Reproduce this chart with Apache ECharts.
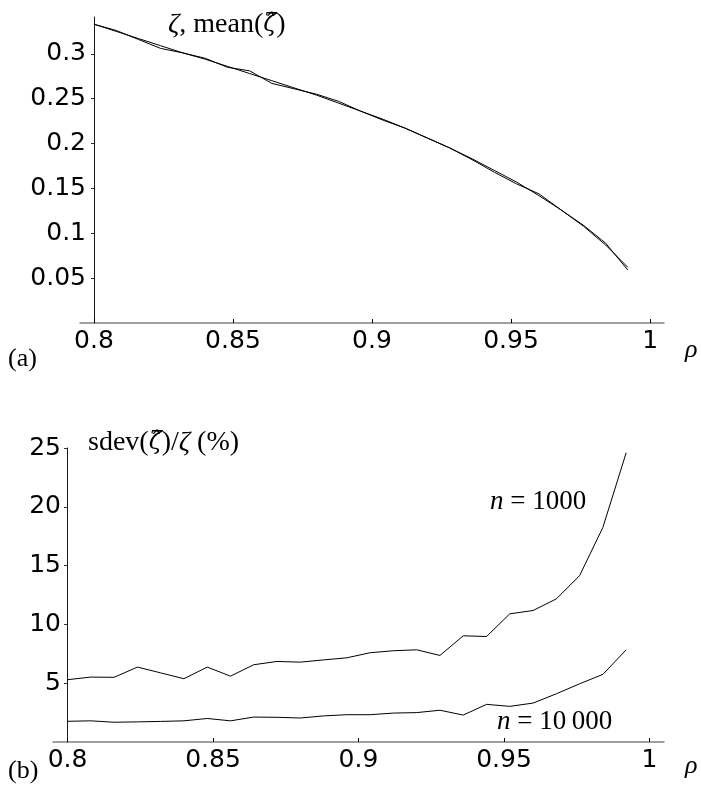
<!DOCTYPE html>
<html>
<head>
<meta charset="utf-8">
<script src="https://cdn.jsdelivr.net/npm/echarts@6/dist/echarts.min.js"></script>
<style>
  html, body { margin: 0; padding: 0; background: #fff; }
  #chart { width: 701px; height: 793px; }
</style>
</head>
<body>
<div id="chart"></div>
<script>
// rho grid shared by both panels
const rho = [0.8, 0.808, 0.816, 0.824, 0.832, 0.84, 0.848, 0.856, 0.864, 0.872, 0.88, 0.888, 0.896,
  0.904, 0.912, 0.92, 0.928, 0.936, 0.944, 0.952, 0.96, 0.968, 0.976, 0.984, 0.992]

// (a) zeta and mean of the estimate
const zeta = [0.333, 0.325, 0.317, 0.309, 0.301, 0.294, 0.286, 0.278, 0.270, 0.262, 0.254, 0.245, 0.236,
  0.227, 0.217, 0.206, 0.195, 0.183, 0.170, 0.157, 0.142, 0.126, 0.108, 0.087, 0.062]
const meanZeta = [0.333, 0.326, 0.316, 0.306, 0.301, 0.295, 0.285, 0.281, 0.267, 0.261, 0.255, 0.247, 0.236,
  0.226, 0.217, 0.206, 0.195, 0.182, 0.168, 0.155, 0.144, 0.126, 0.109, 0.089, 0.059]

// (b) relative sdev in %
const sdev1000 = [5.3, 5.52, 5.5, 6.37, 5.88, 5.38, 6.37, 5.6, 6.57, 6.85, 6.79, 6.98, 7.16,
  7.59, 7.76, 7.84, 7.36, 9.03, 8.97, 10.9, 11.18, 12.17, 14.15, 18.25, 24.6]
const sdev10000 = [1.76, 1.8, 1.68, 1.71, 1.75, 1.8, 2.0, 1.8, 2.12, 2.1, 2.04, 2.22, 2.32,
  2.32, 2.46, 2.5, 2.7, 2.29, 3.2, 3.03, 3.31, 4.1, 4.95, 5.75, 7.84]

// tick labels
const xTicks = [0.8, 0.85, 0.9, 0.95, 1]
const yTicksA = [0.05, 0.1, 0.15, 0.2, 0.25, 0.3]
const yTicksB = [5, 10, 15, 20, 25]

const pairs = (ys) => rho.map((r, i) => [r, ys[i]])

const chart = echarts.init(document.getElementById('chart'))

const sansLabel = { fontFamily: 'DejaVu Sans', fontSize: 25, color: '#000' }
const serif = 'Liberation Serif'

const xAxisBase = (grid) => ({
  gridIndex: grid,
  type: 'value',
  min: 0.795,
  max: 1.005,
  splitLine: { show: false },
  axisLine: { show: true, lineStyle: { color: '#808080', width: 1.5 } },
  axisTick: { show: true, inside: true, length: 4, customValues: xTicks, lineStyle: { color: '#000' } },
  axisLabel: { ...sansLabel, margin: 6, customValues: xTicks, formatter: (v) => String(v) }
})

const yAxisBase = (grid, max, ticks, margin) => ({
  gridIndex: grid,
  type: 'value',
  min: 0,
  max: max,
  offset: -14,
  splitLine: { show: false },
  axisLine: { show: true, lineStyle: { color: '#1a1a1a', width: 1 } },
  axisTick: { show: true, length: 3, customValues: ticks, lineStyle: { color: '#333' } },
  axisLabel: { ...sansLabel, margin: margin, customValues: ticks, formatter: (v) => String(v) }
})

const lineSeries = (data, grid) => ({
  type: 'line',
  xAxisIndex: grid,
  yAxisIndex: grid,
  data: data,
  symbol: 'none',
  silent: true,
  lineStyle: { color: '#000', width: 1 }
})

// serif labels; {i|..} italic, {h|..} italic with hat (DejaVu places the accent better)
const txt = (x, y, text, size) => ({
  type: 'text',
  x: x,
  y: y,
  silent: true,
  style: {
    text: text,
    fontFamily: serif,
    fontSize: size,
    fill: '#000',
    verticalAlign: 'middle',
    rich: {
      i: { fontFamily: serif, fontSize: size, fontStyle: 'italic', fill: '#000', color: '#000' },
      h: { fontFamily: 'DejaVu Serif', fontSize: size - 4, fontStyle: 'italic', fill: '#000', color: '#000' }
    }
  }
})

chart.setOption({
  animation: false,
  backgroundColor: '#fff',
  grid: [
    { left: 80, top: 17, width: 584, height: 306 },
    { left: 53, top: 448, width: 611, height: 294 }
  ],
  xAxis: [xAxisBase(0), xAxisBase(1)],
  yAxis: [yAxisBase(0, 0.341, yTicksA, 8), yAxisBase(1, 25, yTicksB, 6)],
  series: [
    lineSeries(pairs(zeta), 0),
    lineSeries(pairs(meanZeta), 0),
    lineSeries(pairs(sdev1000), 1),
    lineSeries(pairs(sdev10000), 1)
  ],
  graphic: [
    txt(168, 25, '{i|ζ}, mean({h|ζ\u0302})', 28),
    txt(8, 359, '(a)', 26),
    txt(685, 350, '{i|ρ}', 26),
    txt(88, 443, 'sdev({h|ζ\u0302})/{i|ζ} (%)', 28),
    txt(490, 502, '{i|n} = 1000', 27),
    txt(497, 722, '{i|n} = 10\u2009000', 27),
    txt(8, 771, '(b)', 26),
    txt(685, 766, '{i|ρ}', 26)
  ]
})
</script>
</body>
</html>
